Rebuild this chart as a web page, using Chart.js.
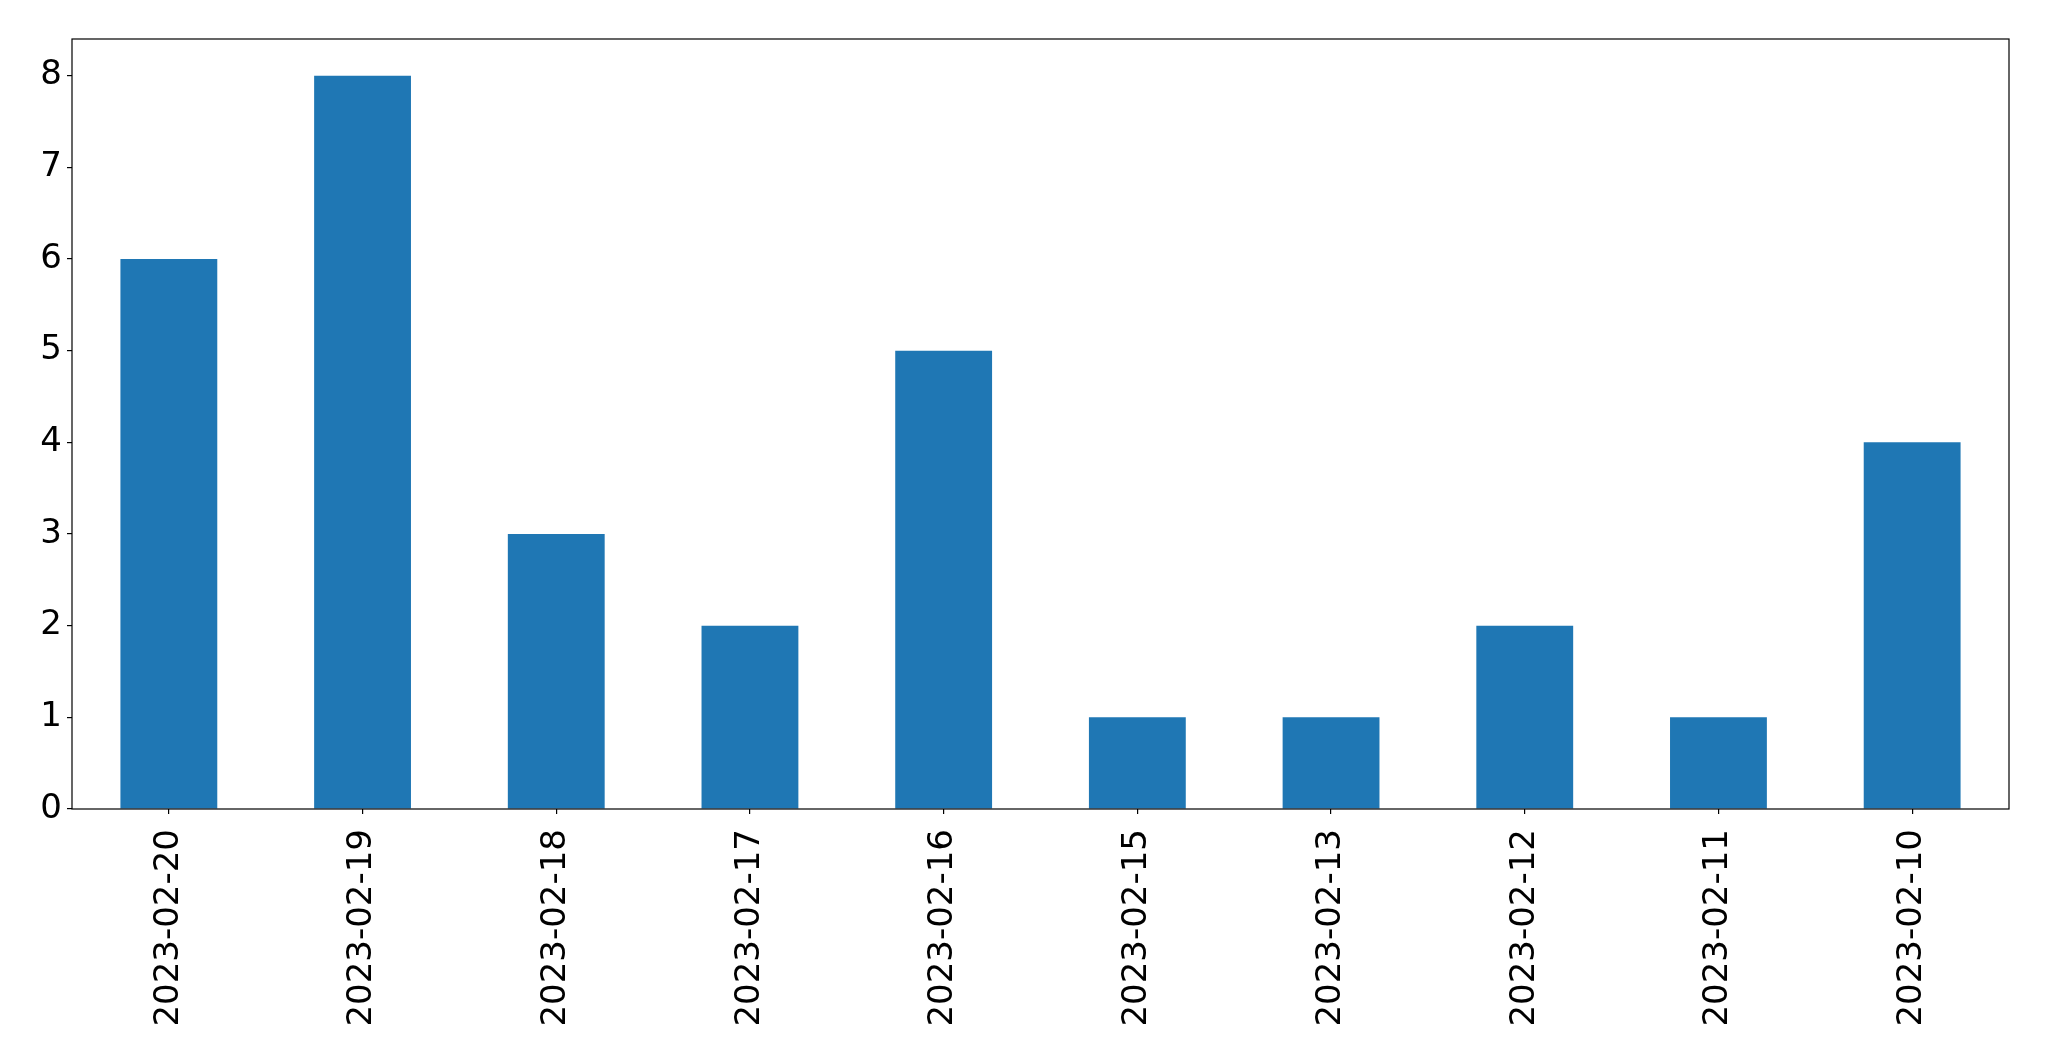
<!DOCTYPE html>
<html>
<head>
<meta charset="utf-8">
<script src="https://cdn.jsdelivr.net/npm/chart.js@4"></script>
<style>
  html, body { margin: 0; padding: 0; background: #fff; }
  #wrap { width: 2049px; height: 1061px; }
</style>
</head>
<body>
<div id="wrap"><canvas id="chart" width="2049" height="1061"></canvas></div>
<script>
// Data
const dates = ["2023-02-20", "2023-02-19", "2023-02-18", "2023-02-17", "2023-02-16",
               "2023-02-15", "2023-02-13", "2023-02-12", "2023-02-11", "2023-02-10"];
const counts = [6, 8, 3, 2, 5, 1, 1, 2, 1, 4];
const yTicks = [0, 1, 2, 3, 4, 5, 6, 7, 8];

// frame around the plot area, like matplotlib spines
const frame = {
    id: "frame",
    afterDatasetsDraw(chart) {
        const a = chart.chartArea;
        const ctx = chart.ctx;
        ctx.save();
        ctx.strokeStyle = "#000";
        ctx.lineWidth = 1.2;
        ctx.strokeRect(a.left, a.top, a.right - a.left, a.bottom - a.top);
        ctx.restore();
    }
};

const font = { family: "DejaVu Sans", size: 34 };

new Chart(document.getElementById("chart"), {
    type: "bar",
    data: {
        labels: dates,
        datasets: [{
            data: counts,
            backgroundColor: "#1f77b4",
            barPercentage: 0.5,
            categoryPercentage: 1.0
        }]
    },
    options: {
        responsive: false,
        animation: false,
        layout: { padding: { top: 39, right: 40, left: 0, bottom: 0 } },
        plugins: { legend: { display: false }, tooltip: { enabled: false } },
        scales: {
            x: {
                offset: true,
                grid: { display: true, drawOnChartArea: false, offset: false, color: "#000", tickLength: 5, lineWidth: 1.2 },
                border: { display: false },
                ticks: { color: "#000", font: font, minRotation: 90, maxRotation: 90, padding: 15, autoSkip: false },
                afterFit(scale) { scale.height = 252; }
            },
            y: {
                min: 0,
                max: 8.4,
                grid: { display: true, drawOnChartArea: false, color: "#000", tickLength: 5, lineWidth: 1.2 },
                border: { display: false },
                ticks: { color: "#000", font: font, stepSize: 1, includeBounds: false, padding: 5 },
                afterBuildTicks(scale) { scale.ticks = yTicks.map(v => ({ value: v })); },
                afterFit(scale) { scale.width = 72; }
            }
        }
    },
    plugins: [frame]
});
</script>
</body>
</html>
